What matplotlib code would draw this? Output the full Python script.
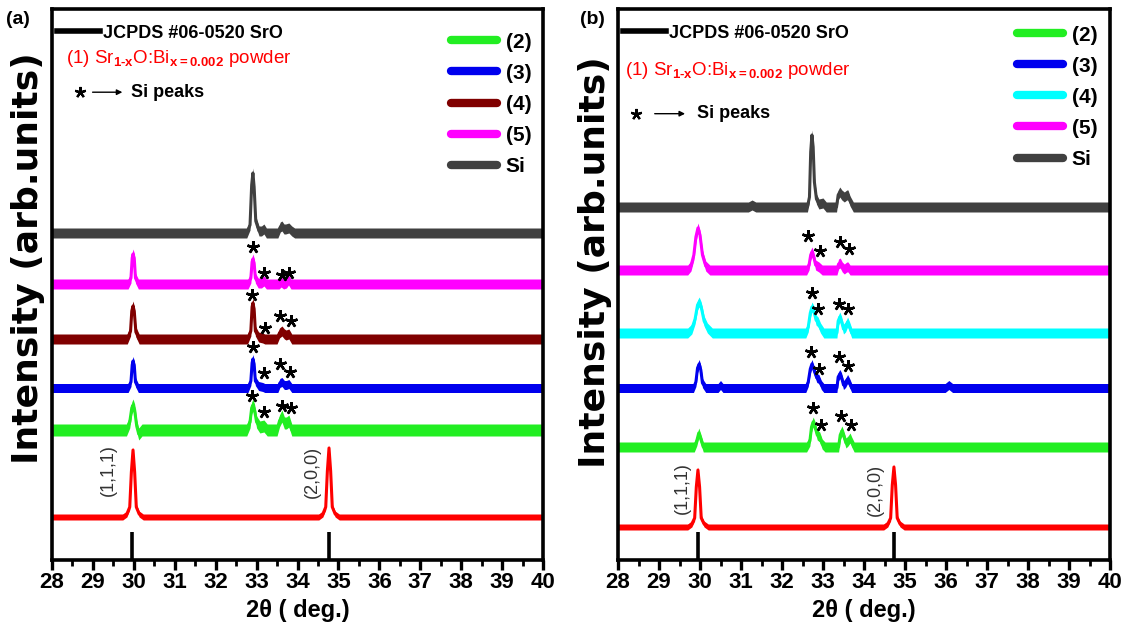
import numpy as np
import matplotlib
matplotlib.use("Agg")
import matplotlib.pyplot as plt
from matplotlib.ticker import MultipleLocator
from matplotlib.lines import Line2D

plt.rcParams['font.family'] = ['Liberation Sans Narrow', 'Liberation Sans', 'DejaVu Sans']
plt.rcParams['font.weight'] = 'bold'
plt.rcParams['mathtext.fontset'] = 'custom'
plt.rcParams['mathtext.rm'] = 'Liberation Sans'
plt.rcParams['mathtext.bf'] = 'Liberation Sans:bold'

# ---------------- panel (a) patterns: 2theta (deg) / intensity above baseline (arb.) ----------------
tt_si_a = [28.0, 32.76, 32.84, 32.88, 32.91, 32.94, 32.98, 33.06, 33.12, 33.18, 33.24, 33.52, 33.58, 33.62, 33.67, 33.71, 33.79, 33.86, 33.93, 40.0]
in_si_a = [0, 0, 8, 48, 60, 46, 12, 2, 2, 4, 0, 0, 6, 7, 4, 4, 5, 2, 0, 0]

tt_5_a = [28.0, 29.86, 29.93, 29.96, 29.98, 30.01, 30.04, 30.11, 32.79, 32.86, 32.89, 32.91, 32.94, 32.97, 33.04, 33.12, 33.18, 33.24, 33.55, 33.6, 33.66, 33.73, 33.78, 33.84, 40.0]
in_5_a = [0, 0, 6, 26, 30, 26, 6, 0, 0, 6, 22, 25, 21, 6, 1, 1, 3, 0, 0, 2, 0, 1, 4, 0, 0]

tt_4_a = [28.0, 29.84, 29.92, 29.95, 29.98, 30.01, 30.05, 30.13, 32.78, 32.86, 32.89, 32.91, 32.94, 32.97, 33.05, 33.15, 33.2, 33.5, 33.56, 33.62, 33.68, 33.72, 33.79, 33.86, 40.0]
in_4_a = [0, 0, 8, 28, 33, 28, 7, 0, 0, 8, 32, 36, 30, 8, 2, 1, 0, 0, 6, 8, 5, 4, 5, 0, 0]

tt_3_a = [28.0, 29.86, 29.93, 29.96, 29.98, 30.01, 30.04, 30.11, 32.79, 32.86, 32.89, 32.91, 32.94, 32.97, 33.05, 33.15, 33.2, 33.52, 33.57, 33.62, 33.68, 33.73, 33.79, 33.86, 40.0]
in_3_a = [0, 0, 6, 23, 27, 23, 6, 0, 0, 7, 25, 29, 24, 7, 2, 1, 0, 0, 5, 6, 3, 3, 4, 0, 0]

tt_2_a = [28.0, 29.82, 29.9, 29.95, 29.98, 30.02, 30.07, 30.12, 30.2, 32.76, 32.84, 32.88, 32.91, 32.95, 33.0, 33.08, 33.18, 33.26, 33.5, 33.56, 33.62, 33.68, 33.73, 33.79, 33.86, 40.0]
in_2_a = [0, 0, 8, 22, 25, 20, 4, -4, 0, 0, 8, 22, 25, 20, 8, 3, 4, 0, 0, 9, 14, 7, 7, 9, 0, 0]

tt_1_a = [28.0, 29.73, 29.83, 29.9, 29.94, 29.98, 30.02, 30.06, 30.13, 30.23, 34.52, 34.62, 34.69, 34.73, 34.77, 34.81, 34.85, 34.92, 35.02, 40.0]
in_1_a = [0, 0, 3, 10, 45, 67, 45, 10, 3, 0, 0, 3, 10, 46, 69, 46, 10, 3, 0, 0]

# JCPDS #06-0520 reference reflections
ref_tt_a = [29.96, 34.77]
ref_in_a = [28, 28]

# ---------------- panel (b) patterns ----------------
tt_si_b = [28.0, 31.18, 31.27, 31.36, 32.62, 32.67, 32.7, 32.73, 32.76, 32.79, 32.84, 32.9, 33.0, 33.08, 33.33, 33.37, 33.41, 33.46, 33.52, 33.58, 33.61, 33.66, 33.74, 40.0]
in_si_b = [0, 0, 2, 0, 0, 10, 55, 72, 60, 25, 8, 3, 4, 0, 0, 12, 15, 12, 10, 12, 12, 6, 0, 0]

tt_5_b = [28.0, 29.7, 29.78, 29.85, 29.9, 29.95, 30.0, 30.06, 30.14, 30.24, 32.6, 32.66, 32.7, 32.73, 32.77, 32.82, 32.9, 32.98, 33.34, 33.38, 33.42, 33.47, 33.52, 33.58, 33.61, 33.66, 40.0]
in_5_b = [0, 0, 4, 15, 33, 42, 35, 15, 4, 0, 0, 5, 15, 18, 14, 5, 3, 0, 0, 6, 7, 3, 1, 3, 3, 0, 0]

tt_4_b = [28.0, 29.7, 29.8, 29.88, 29.94, 29.98, 30.03, 30.1, 30.18, 30.3, 32.58, 32.64, 32.69, 32.73, 32.78, 32.83, 32.88, 32.94, 33.02, 33.34, 33.37, 33.41, 33.45, 33.5, 33.55, 33.6, 33.65, 33.7, 40.0]
in_4_b = [0, 0, 4, 14, 28, 31, 26, 12, 5, 0, 0, 6, 20, 26, 22, 13, 11, 5, 0, 0, 12, 16, 12, 4, 6, 11, 6, 0, 0]

tt_3_b = [28.0, 29.84, 29.9, 29.94, 29.98, 30.02, 30.06, 30.14, 30.44, 30.5, 30.56, 32.58, 32.64, 32.69, 32.73, 32.78, 32.85, 32.9, 32.96, 33.02, 33.34, 33.37, 33.41, 33.45, 33.5, 33.55, 33.6, 33.65, 33.7, 35.98, 36.07, 36.16, 40.0]
in_3_b = [0, 0, 6, 20, 24, 18, 5, 0, 0, 3, 0, 0, 6, 19, 24, 18, 10, 9, 3, 0, 0, 11, 14, 11, 3, 5, 9, 5, 0, 0, 3, 0, 0]

tt_2_b = [28.0, 29.86, 29.92, 29.97, 30.02, 30.08, 32.6, 32.68, 32.72, 32.76, 32.8, 32.86, 32.92, 32.98, 33.05, 33.38, 33.42, 33.46, 33.5, 33.56, 33.61, 33.66, 33.7, 33.76, 40.0]
in_2_b = [0, 0, 6, 14, 8, 0, 0, 6, 20, 25, 21, 12, 10, 3, 0, 0, 12, 16, 12, 4, 6, 9, 5, 0, 0]

tt_1_b = [28.0, 29.7, 29.8, 29.87, 29.91, 29.95, 29.99, 30.03, 30.1, 30.2, 34.48, 34.58, 34.65, 34.69, 34.73, 34.77, 34.81, 34.88, 34.98, 40.0]
in_1_b = [0, 0, 3, 9, 40, 57, 40, 9, 3, 0, 0, 3, 9, 42, 60, 42, 9, 3, 0, 0]

ref_tt_b = [29.95, 34.73]
ref_in_b = [28, 28]

labels_a = ['(2)', '(3)', '(4)', '(5)', 'Si']
labels_b = ['(2)', '(3)', '(4)', '(5)', 'Si']
hkl_labels = ['(1,1,1)', '(2,0,0)']
x_ticks = list(range(28, 41))

# ---------------- styling / layout ----------------
GREEN, BLUE, DRED, MAG, CYAN, GREY, RED = '#22ee22', '#0000ee', '#800000', '#ff00ff', '#00ffff', '#404040', '#ff0000'

panel_a = dict(
    traces=[  # (2theta, intensity, colour, vertical offset, noise half-band, legend label)
        (tt_1_a, in_1_a, RED, 43, 3.0, None),
        (tt_2_a, in_2_a, GREEN, 130, 6.0, labels_a[0]),
        (tt_3_a, in_3_a, BLUE, 172, 4.5, labels_a[1]),
        (tt_4_a, in_4_a, DRED, 221, 5.0, labels_a[2]),
        (tt_5_a, in_5_a, MAG, 276, 5.0, labels_a[3]),
        (tt_si_a, in_si_a, GREY, 327, 5.0, labels_a[4]),
    ],
    ref=(ref_tt_a, ref_in_a),
    stars_x=[32.91, 33.18, 33.62, 33.79, 32.89, 33.2, 33.57, 33.84, 32.91, 33.18, 33.57, 33.82, 32.89, 33.18, 33.62, 33.84],
    stars_y=[313, 287, 285, 287, 265, 232, 244, 239, 213, 187, 196, 188, 164, 148, 154, 152],
    hkl_pos=[(29.39, 90), (34.36, 88)],
    tag='(a)', tag_x=18,
    rect=[52 / 1123, 71 / 631, 491 / 1123, 551 / 631],
    jcpds_y=0.956, formula_xy=(0.029, 0.911), sipk_y=0.849, sipk_x=(0.057, 0.077, 0.149, 0.160),
    leg_anchor=(0.976, 0.957), ylab_xy=(-0.014, 0.547),
)
panel_b = dict(
    traces=[
        (tt_1_b, in_1_b, RED, 33, 3.0, None),
        (tt_2_b, in_2_b, GREEN, 113, 5.0, labels_b[0]),
        (tt_3_b, in_3_b, BLUE, 172, 4.5, labels_b[1]),
        (tt_4_b, in_4_b, CYAN, 227, 5.0, labels_b[2]),
        (tt_5_b, in_5_b, MAG, 290, 5.0, labels_b[3]),
        (tt_si_b, in_si_b, GREY, 353, 5.0, labels_b[4]),
    ],
    ref=(ref_tt_b, ref_in_b),
    stars_x=[32.63, 32.93, 33.41, 33.63, 32.73, 32.88, 33.39, 33.61, 32.71, 32.9, 33.39, 33.61, 32.76, 32.95, 33.44, 33.68],
    stars_y=[324, 309, 318, 311, 267, 251, 256, 251, 208, 191, 203, 194, 152, 135, 144, 135],
    hkl_pos=[(29.56, 72), (34.27, 70)],
    tag='(b)', tag_x=592,
    rect=[618 / 1123, 71 / 631, 492 / 1123, 551 / 631],
    jcpds_y=0.956, formula_xy=(0.014, 0.889), sipk_y=0.810, sipk_x=(0.037, 0.069, 0.142, 0.161),
    leg_anchor=(0.974, 0.970), ylab_xy=(-0.012, 0.540),
)

fig = plt.figure(figsize=(11.23, 6.31), dpi=100)


def draw_panel(p):
    ax = fig.add_axes(p['rect'])
    handles = []
    for tt, inten, col, off, band, lab in p['traces']:
        tt = np.asarray(tt, float)
        y = off + np.asarray(inten, float)
        ax.fill_between(tt, y - band, y + band, color=col, lw=0)
        ln, = ax.plot(tt, y, color=col, lw=2.2, solid_joinstyle='round', label=lab)
        if lab is not None:
            handles.append(ln)
    rt, ri = p['ref']
    sticks = ax.vlines(rt, 0, ri, colors='black', lw=2.6, label='JCPDS #06-0520 SrO')

    for (hx, hy), txt in zip(p['hkl_pos'], hkl_labels):
        ax.text(hx, hy, txt, rotation=90, ha='center', va='center', fontsize=13,
                fontweight='normal', color='#333333')

    # Si reflections flagged with five-spoke asterisks
    ax.plot(p['stars_x'], p['stars_y'], ls='none', marker=(5, 2, 0), ms=9, mew=1.8,
            color='black')

    ax.set_xlim(28, 40)
    ax.set_ylim(0, 551)
    ax.set_xticks(x_ticks)
    ax.xaxis.set_minor_locator(MultipleLocator(0.5))
    ax.set_yticks([])
    for s in ax.spines.values():
        s.set_linewidth(2.6)
    ax.tick_params(axis='x', which='major', direction='out', length=7, width=2.4,
                   labelsize=16, pad=2)
    ax.tick_params(axis='x', which='minor', direction='out', length=4, width=2.0)
    for t in ax.get_xticklabels():
        t.set_fontweight('bold')

    ax.set_xlabel('2θ ( deg.)', fontsize=17, fontweight='bold', labelpad=4)
    ax.set_ylabel('Intensity (arb.units)', fontsize=26, fontweight='bold',
                  family=['DejaVu Sans'])
    ax.yaxis.set_label_coords(*p['ylab_xy'])

    leg = ax.legend(handles=handles, loc='upper right', bbox_to_anchor=p['leg_anchor'],
                    frameon=False, fontsize=15, handlelength=2.2, handletextpad=0.4,
                    labelspacing=0.58, borderpad=0, borderaxespad=0)
    for h in leg.legend_handles:
        h.set_linewidth(6)
        h.set_solid_capstyle('round')
    ax.add_artist(leg)

    ax.legend(handles=[Line2D([], [], color='black', lw=4)], labels=[sticks.get_label()],
              loc='center left', bbox_to_anchor=(0.0, p['jcpds_y']), frameon=False,
              fontsize=13, handlelength=2.35, handletextpad=0.2, borderpad=0,
              borderaxespad=0.3)

    fx, fy = p['formula_xy']
    ax.text(fx, fy, r'(1) Sr$_{\mathbf{1\text{-}x}}$O:Bi$_{\mathbf{x=0.002}}$ powder',
            transform=ax.transAxes, color='red', fontsize=13.5, fontweight='normal',
            va='center', ha='left')

    sx, a0, a1, tx = p['sipk_x']
    sy = p['sipk_y']
    ax.plot([sx], [sy], transform=ax.transAxes, marker=(5, 2, 0), ms=8, mew=1.6,
            color='black', ls='none')
    ax.annotate('', xy=(a1, sy), xytext=(a0, sy), xycoords='axes fraction',
                arrowprops=dict(arrowstyle='-|>', lw=1.0, color='black', mutation_scale=8))
    ax.text(tx, sy, 'Si peaks', transform=ax.transAxes, fontsize=13, va='center', ha='left')

    fig.text(p['tag_x'] / 1123, 1 - 20 / 631, p['tag'], fontsize=14, fontweight='bold',
             ha='center', va='center')
    return ax


draw_panel(panel_a)
draw_panel(panel_b)

fig.savefig('out.png', dpi=100, facecolor='white')
